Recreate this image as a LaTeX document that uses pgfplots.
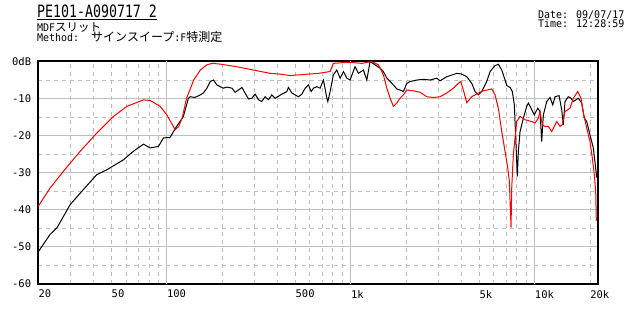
\documentclass[border=0pt]{standalone}
\usepackage{fontspec}
\usepackage{pgfplots}
\pgfplotsset{compat=1.18}
\newfontfamily\mono{DejaVu Sans Mono}
\newfontfamily\cjk{Noto Sans CJK JP}
\newcommand\lat[1]{\scalebox{0.95}[1]{#1}}
\definecolor{gridgray}{RGB}{190,190,190}
\pgfplotstableread{
f db
20 -39.0
23.2 -34.1
27.4 -29.6
33.8 -24.2
41.6 -19.3
51.3 -14.8
60.6 -12.1
74.6 -10.35
81.1 -10.5
92.0 -12.1
100 -14.4
111 -18.4
116 -17.5
121 -15.3
128 -9.9
140 -5.0
152 -2.3
165 -0.9
176 -0.5
195 -0.7
240 -1.4
296 -2.3
364 -3.2
413 -3.4
468 -3.8
588 -3.4
667 -3.2
772 -2.7
804 -0.5
970 -0.2
1148 -0.5
1300 0
1413 -0.9
1504 -3.6
1570 -7.2
1636 -9.9
1704 -12.1
1778 -11.2
1853 -9.9
1932 -9.0
2015 -7.7
2189 -7.9
2381 -8.3
2588 -9.5
2811 -9.7
3057 -9.5
3325 -8.5
3611 -7.2
3843 -5.9
3961 -5.4
4093 -7.7
4269 -11.1
4546 -9.5
4937 -8.5
5256 -7.9
5840 -7.4
6085 -9.0
6342 -12.6
6618 -18.9
6897 -24.2
7134 -28.7
7278 -32.3
7433 -44.8
7499 -34.1
7651 -25.1
7984 -16.2
8321 -14.8
8857 -15.7
9629 -16.2
10040 -16.6
10460 -15.3
10690 -13.5
11000 -17.1
11370 -17.5
11860 -17.5
12370 -18.9
12890 -17.1
13170 -16.2
13730 -17.5
14130 -17.0
14610 -13.5
15560 -12.6
16210 -9.9
17130 -8.1
17850 -9.9
18380 -13.9
19180 -18.0
19980 -21.6
20560 -26.0
21090 -30.5
21450 -35
21620 -43
}\redtab
\pgfplotstableread{
f db
20 -51.3
21.3 -49.3
23.2 -46.6
25.3 -44.8
29.8 -38.6
35.2 -34.5
41.6 -30.5
47.2 -29.2
58.1 -26.5
65.8 -24.2
74.6 -22.3
81.1 -23.3
90.0 -22.9
95.8 -20.6
104 -20.5
113 -17.5
123 -14.8
131 -9.9
134 -9.5
142 -9.7
152 -9.0
158 -8.5
165 -7.2
172 -5.4
179 -5.0
187 -6.3
195 -6.8
203 -7.2
212 -6.9
226 -7.2
235 -8.3
245 -7.7
256 -7.0
266 -8.5
278 -10.1
290 -9.9
302 -8.8
315 -10.3
328 -10.8
342 -9.5
357 -10.3
372 -9.0
388 -9.9
422 -8.8
449 -8.1
458 -7.0
478 -8.5
498 -9.0
519 -9.5
542 -8.8
565 -7.2
588 -6.3
609 -8.1
626 -7.2
654 -6.8
681 -7.2
710 -5.0
741 -9.9
750 -10.8
772 -8.1
804 -3.6
839 -2.3
875 -4.5
912 -2.7
951 -4.5
991 -5.0
1055 -1.4
1100 -3.2
1171 -2.3
1222 -5.0
1273 0
1356 -0.9
1443 -1.8
1504 -2.7
1570 -4.5
1636 -5.4
1704 -6.3
1778 -7.4
1853 -7.7
1932 -8.1
2015 -5.9
2101 -5.4
2284 -5.0
2481 -4.8
2698 -5.0
2934 -4.5
3057 -5.2
3325 -4.1
3767 -3.2
4011 -3.4
4269 -4.1
4546 -5.9
4737 -8.1
4937 -9.0
5152 -8.1
5485 -5.4
5717 -2.7
6085 -1.1
6342 -0.75
6618 -2.3
6897 -5.0
7044 -6.5
7342 -7.0
7556 -8.1
7746 -11.7
7883 -20.6
8043 -31.0
8146 -24.2
8321 -18.9
8670 -15.3
9047 -12.1
9230 -11.2
9629 -13.0
9950 -14.4
10380 -12.6
10690 -13.5
10910 -21.6
11140 -14.4
11620 -10.8
12110 -9.7
12530 -11.7
12890 -9.5
13560 -9.2
14020 -13.0
14300 -17.1
14610 -10.8
15220 -9.5
15750 -9.9
16210 -10.8
17260 -9.9
18010 -11.2
18610 -15.3
19180 -16.2
19980 -19.8
20820 -23.3
21540 -29.6
21730 -31.3
}\blacktab
\begin{document}
\begin{tikzpicture}
\path[use as bounding box] (0,0) rectangle (636bp,315bp);
\begin{axis}[
 at={(38.3bp,31bp)}, anchor=south west,
 scale only axis, width=559.4bp, height=222.5bp,
 xmode=log, xmin=20, xmax=22000, ymin=-60, ymax=0,
 axis line style={line width=2bp, black},
 xtick={20,50,100,500,1000,5000,10000,20000},
 xticklabels={20,50,100,500,1k,5k,10k,20k},
 minor xtick={30,40,50,60,70,80,90,200,300,400,500,600,700,800,900,2000,3000,4000,5000,6000,7000,8000,9000,20000},
 extra x ticks={100,1000,10000},
 extra x tick labels={},
 extra x tick style={xmajorgrids=true},
 xmajorgrids=false, xminorgrids=true,
 ytick={-60,-50,-40,-30,-20,-10,0}, yticklabels={-60,-50,-40,-30,-20,-10,0dB},
 minor ytick={-55,-45,-35,-25,-15,-5},
 ymajorgrids=true, yminorgrids=true,
 major grid style={gridgray, line width=1bp, solid},
 minor grid style={gridgray, line width=1bp, dash pattern=on 4bp off 4bp},
 major tick length=0pt, minor tick length=0pt,
 tick label style={font=\mono\fontsize{10.5bp}{12bp}\selectfont, inner sep=0pt},
 xticklabel style={anchor=north west, yshift=-6bp},
 yticklabel style={anchor=east, xshift=-7bp},
]
\addplot[black, line width=1bp] table[x=f, y=db] {\blacktab};
\addplot[red, line width=1bp] table[x=f, y=db] {\redtab};
\end{axis}
\node[anchor=base west, inner sep=0pt, text depth=0pt, font=\mono\fontsize{17bp}{18bp}\selectfont] at (37bp,297.2bp) {\scalebox{0.78}[1]{PE101-A090717 2}};
\draw[line width=1bp] (37bp,295.8bp) -- (157bp,295.8bp);
\node[anchor=base west, inner sep=0pt, text height=8bp, font=\mono\fontsize{10.5bp}{12bp}\selectfont] at (37bp,283.6bp) {\lat{MDF}{\cjk\fontsize{11.5bp}{12bp}\selectfont スリット}};
\node[anchor=base west, inner sep=0pt, font=\mono\fontsize{10.5bp}{12bp}\selectfont] at (37bp,273bp) {\lat{Method:\ \ }{\cjk\fontsize{12bp}{12bp}\selectfont サインスイープ}\lat{:F}{\cjk\fontsize{12bp}{12bp}\selectfont 特測定}};
\node[anchor=base west, inner sep=0pt, font=\mono\fontsize{10.5bp}{12bp}\selectfont] at (538bp,296.7bp) {\lat{Date: 09/07/17}};
\node[anchor=base west, inner sep=0pt, font=\mono\fontsize{10.5bp}{12bp}\selectfont] at (538bp,287.3bp) {\lat{Time: 12:28:59}};
\end{tikzpicture}
\end{document}
